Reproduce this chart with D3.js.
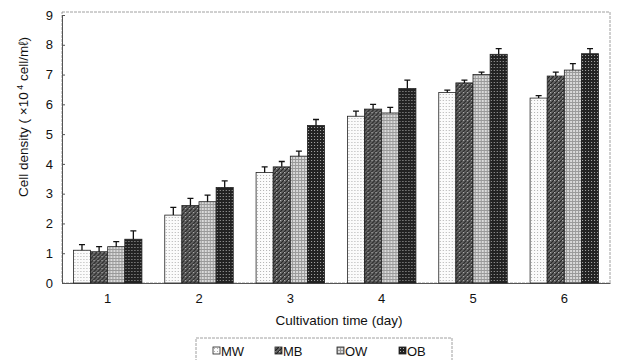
<!DOCTYPE html>
<html>
<head>
<meta charset="utf-8">
<script src="https://cdn.jsdelivr.net/npm/d3@7"></script>
<style>
body { margin: 0; background: #fff; }
svg { font-family: "Liberation Sans", Arial, sans-serif; }
</style>
</head>
<body>
<svg width="618" height="360"></svg>
<script>
var svg = d3.select('svg');

// data
var days = ['1', '2', '3', '4', '5', '6'];
var series = ['MW', 'MB', 'OW', 'OB'];
var MW = [1.10, 2.28, 3.71, 5.60, 6.40, 6.21];
var MB = [1.05, 2.60, 3.90, 5.84, 6.72, 6.95];
var OW = [1.22, 2.73, 4.26, 5.71, 7.00, 7.15];
var OB = [1.47, 3.21, 5.29, 6.53, 7.68, 7.70];
var errMW = [0.19, 0.26, 0.19, 0.17, 0.08, 0.08];
var errMB = [0.17, 0.24, 0.18, 0.16, 0.09, 0.13];
var errOW = [0.17, 0.22, 0.17, 0.19, 0.08, 0.22];
var errOB = [0.28, 0.22, 0.20, 0.28, 0.19, 0.17];
var yTicks = [0, 1, 2, 3, 4, 5, 6, 7, 8, 9];

var vals = {MW: MW, MB: MB, OW: OW, OB: OB};
var errs = {MW: errMW, MB: errMB, OW: errOW, OB: errOB};

var pl = 62, pr = 610, pt = 15, pb = 283;

var x = d3.scaleBand().domain(days).range([pl, pr]).paddingInner(0.25).paddingOuter(0.125);
var xs = d3.scaleBand().domain(series).range([0, x.bandwidth()]);
var y = d3.scaleLinear().domain([0, 9]).range([pb, pt]);

// patterns
var defs = svg.append('defs');
function pat(id, w, bg) {
    var p = defs.append('pattern').attr('id', id).attr('patternUnits', 'userSpaceOnUse')
        .attr('width', w).attr('height', w);
    p.append('rect').attr('width', w).attr('height', w).attr('fill', bg);
    return p;
}
var p1 = pat('pMW', 3, '#fbfbfb');
p1.append('rect').attr('x', 1).attr('y', 1).attr('width', 1).attr('height', 1).attr('fill', '#b0b0b0');
var p2 = pat('pMB', 4, '#6a6a6a');
p2.append('path').attr('d', 'M0,4 L4,0 M-1,1 L1,-1 M3,5 L5,3').attr('stroke', '#222').attr('stroke-width', 1.2);
p2.append('rect').attr('x', 0).attr('y', 0).attr('width', 1).attr('height', 1).attr('fill', '#bbb');
var p3 = pat('pOW', 3, '#dadada');
p3.append('rect').attr('x', 0).attr('y', 0).attr('width', 3).attr('height', 1).attr('fill', '#9a9a9a');
p3.append('rect').attr('x', 0).attr('y', 0).attr('width', 1).attr('height', 3).attr('fill', '#9a9a9a');
var p4 = pat('pOB', 3, '#222');
p4.append('rect').attr('x', 1).attr('y', 1).attr('width', 1).attr('height', 1).attr('fill', '#aaa');

// plot border
svg.append('rect')
    .attr('x', pl).attr('y', 12).attr('width', pr - pl).attr('height', pb - 12)
    .attr('fill', 'none').attr('stroke', '#888').attr('stroke-width', 0.8)
    .attr('stroke-dasharray', '3,1');

// y axis
var yAxis = svg.append('g').attr('transform', 'translate(' + pl + ',0)')
    .call(d3.axisLeft(y).tickValues(yTicks).tickSize(-3).tickPadding(9));
yAxis.select('.domain').attr('stroke', '#555');
yAxis.selectAll('.tick line').attr('stroke', '#555');
yAxis.selectAll('text').attr('font-size', 13).attr('fill', '#111')
    .attr('font-family', '"Liberation Sans", Arial, sans-serif');

// x axis
var xAxis = svg.append('g').attr('transform', 'translate(0,' + pb + ')')
    .call(d3.axisBottom(x).tickSize(0).tickPadding(11));
xAxis.select('.domain').attr('stroke', '#555');
xAxis.selectAll('text').attr('font-size', 13).attr('fill', '#111')
    .attr('font-family', '"Liberation Sans", Arial, sans-serif');

// bars
var groups = svg.selectAll('.grp').data(days).enter().append('g')
    .attr('transform', function(d) { return 'translate(' + x(d) + ',0)'; });

series.forEach(function(s) {
    groups.append('rect')
        .attr('x', xs(s))
        .attr('y', function(d, i) { return y(vals[s][i]); })
        .attr('width', xs.bandwidth())
        .attr('height', function(d, i) { return y(0) - y(vals[s][i]); })
        .attr('fill', 'url(#p' + s + ')')
        .attr('stroke', '#222').attr('stroke-width', 0.8);
    groups.append('path')
        .attr('d', function(d, i) {
            var cx = xs(s) + xs.bandwidth() / 2;
            var y0 = y(vals[s][i]), y1 = y(vals[s][i] + errs[s][i]);
            return 'M' + cx + ',' + y0 + 'V' + y1 + 'M' + (cx - 3) + ',' + y1 + 'H' + (cx + 3);
        })
        .attr('stroke', '#111').attr('stroke-width', 1.3).attr('fill', 'none');
});

// axis titles
svg.append('text')
    .attr('x', (pl + pr) / 2 + 3).attr('y', 325)
    .attr('text-anchor', 'middle').attr('font-size', 13.5).attr('fill', '#111')
    .text('Cultivation time (day)');

var yt = svg.append('text')
    .attr('transform', 'translate(28,117) rotate(-90)')
    .attr('text-anchor', 'middle').attr('font-size', 13.5).attr('fill', '#111');
yt.append('tspan').text('Cell density ( ×10');
yt.append('tspan').attr('dy', -5).attr('font-size', 9).text(' 4');
yt.append('tspan').attr('dy', 5).text(' cell/mℓ)');

// legend
svg.append('rect')
    .attr('x', 196).attr('y', 338).attr('width', 256).attr('height', 30)
    .attr('fill', 'none').attr('stroke', '#888').attr('stroke-width', 0.8)
    .attr('stroke-dasharray', '3,1');

var lx = d3.scalePoint().domain(series).range([213, 399]);
var li = svg.selectAll('.leg').data(series).enter().append('g')
    .attr('transform', function(d) { return 'translate(' + lx(d) + ',347)'; });
li.append('rect').attr('x', 0).attr('y', 0).attr('width', 7).attr('height', 7)
    .attr('fill', function(d) { return 'url(#p' + d + ')'; })
    .attr('stroke', '#222').attr('stroke-width', 0.8);
li.append('text').attr('x', 8).attr('y', 8.5).attr('font-size', 13).attr('fill', '#111')
    .text(function(d) { return d; });
</script>
</body>
</html>
